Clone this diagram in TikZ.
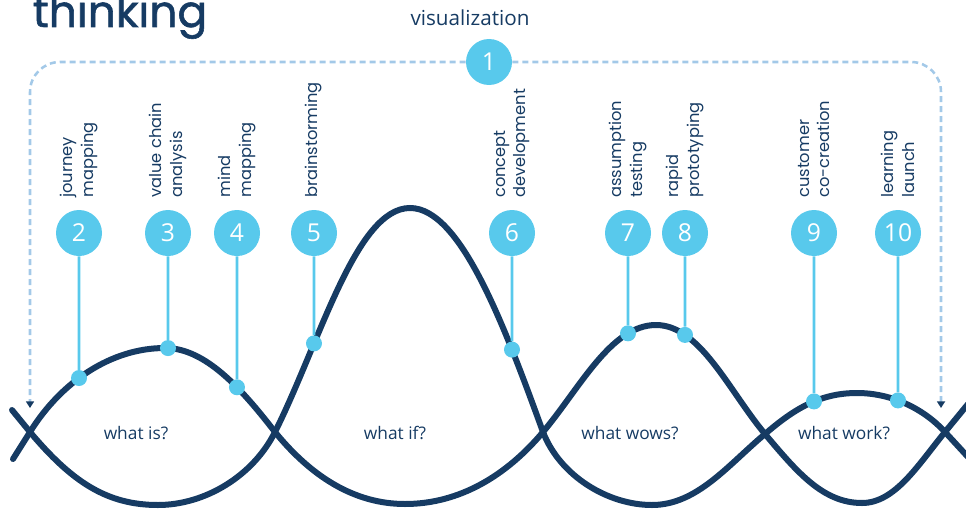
\documentclass[tikz,border=0pt]{standalone}
\usepackage{fontspec}
\setmainfont{Open Sans}
\newfontfamily\poppins{Poppins}
\newfontfamily\poppinsheavy{Poppins}[FakeBold=1.3]
\usetikzlibrary{arrows.meta, intersections}
\definecolor{deepnavy}{RGB}{22,59,99}
\definecolor{skyblue}{RGB}{88,201,236}
\definecolor{paleblue}{RGB}{163,201,232}

\begin{document}
\begin{tikzpicture}[
    x=0.75pt, y=-0.75pt,
    num/.style={circle, fill=skyblue, minimum size=34.5pt, inner sep=0pt, text=white, font=\fontsize{18.5}{18.5}\selectfont},
    knob/.style={circle, fill=skyblue, minimum size=12pt, inner sep=0pt},
    stem/.style={skyblue, line width=2pt},
    wave/.style={deepnavy, line width=4.5pt, line cap=round},
    tool/.style={rotate=90, anchor=west, inner sep=0pt, align=left, text=deepnavy, font=\poppins\fontsize{12.2}{15.5}\selectfont},
    phase/.style={anchor=base, text=deepnavy, font=\fontsize{13}{13}\selectfont},
    dashframe/.style={paleblue, line width=1.9pt, dash pattern=on 4.5pt off 3pt, rounded corners=22.5pt, -{Triangle[length=5pt, width=6pt, color=deepnavy]}}
]
\clip (0,0) rectangle (966,510);

\node[anchor=base west, text=deepnavy, font=\poppinsheavy\fontsize{33}{33}\selectfont] (title) at (28,27) {thinking};
\node[phase, font=\fontsize{15.5}{15.5}\selectfont] (vis) at (470,26) {visualization};

% the two waves
\draw[wave, name path=waveA] (12,410) -- (30,432)
  .. controls +(42,50) and +(-51,0) .. (158,505)
  .. controls +(47,0) and +(-22,44) .. (275,432)
  .. controls +(45,-90) and +(-54,0) .. (410,208)
  .. controls +(50,0) and +(-40,-110) .. (543,432)
  .. controls +(17,44) and +(-44,0) .. (652,505)
  .. controls +(45,0) and +(-37,31) .. (765,434)
  .. controls +(29,-25) and +(-37,0) .. (857,393)
  .. controls +(35,0) and +(-21,-23) .. (945,432)
  -- (968,457);
\draw[wave, name path=waveB] (13,459) -- (30,432)
  .. controls +(31,-50) and +(-54,0) .. (165,348)
  .. controls +(40,0) and +(-34,-44) .. (275,432)
  .. controls +(35,43) and +(-52,0) .. (405,504)
  .. controls +(55,0) and +(-36,43) .. (543,432)
  .. controls +(37,-44) and +(-45,0) .. (656,325)
  .. controls +(44,0) and +(-36,-43) .. (765,434)
  .. controls +(32,38) and +(-39,0) .. (862,503)
  .. controls +(33,0) and +(-27,33) .. (945,432)
  -- (968,404);

\node[phase] (is) at (136,439) {what is?};
\node[phase] (if) at (395,439) {what if?};
\node[phase] (wows) at (630,439) {what wows?};
\node[phase] (work) at (844,439) {what work?};

% visualization frame
\node[num] (n1) at (489,62) {1};
\coordinate (vl) at (30,408);
\coordinate (vr) at (941,408);
\draw[dashframe] (n1) -| (vl);
\draw[dashframe] (n1) -| (vr);

% tools
\node[num] (n2) at (79,233) {2};
\node[num] (n3) at (168,233) {3};
\node[num] (n4) at (237,233) {4};
\node[num] (n5) at (314,233) {5};
\node[num] (n6) at (512,233) {6};
\node[num] (n7) at (628,233) {7};
\node[num] (n8) at (685,233) {8};
\node[num] (n9) at (814,233) {9};
\node[num] (n10) at (898,233) {10};

\node[tool] (t2) at (79,198) {journey\\mapping};
\node[tool] (t3) at (168,198) {value chain\\analysis};
\node[tool] (t4) at (237,198) {mind\\mapping};
\node[tool] (t5) at (314,198) {brainstorming};
\node[tool] (t6) at (512,198) {concept\\development};
\node[tool] (t7) at (628,198) {assumption\\testing};
\node[tool] (t8) at (685,198) {rapid\\prototyping};
\node[tool] (t9) at (814,198) {customer\\co-creation};
\node[tool] (t10) at (898,198) {learning\\launch};

\path[name path=s2] (79,233) -- (79,520);
\path[name path=s3] (168,233) -- (168,520);
\path[name path=s4] (237,233) -- (237,520);
\path[name path=s5] (314,233) -- (314,520);
\path[name path=s6] (512,233) -- (512,520);
\path[name path=s7] (628,233) -- (628,520);
\path[name path=s8] (685,233) -- (685,520);
\path[name path=s9] (814,233) -- (814,520);
\path[name path=s10] (898,233) -- (898,520);
\path[name intersections={of=waveB and s2, by=p2}];
\path[name intersections={of=waveB and s3, by=p3}];
\path[name intersections={of=waveB and s4, by=p4}];
\path[name intersections={of=waveA and s5, by=p5}];
\path[name intersections={of=waveA and s6, by=p6}];
\path[name intersections={of=waveB and s7, by=p7}];
\path[name intersections={of=waveB and s8, by=p8}];
\path[name intersections={of=waveA and s9, by=p9}];
\path[name intersections={of=waveA and s10, by=p10}];

\node[knob] (d2) at (p2) {};
\node[knob] (d3) at (p3) {};
\node[knob] (d4) at (p4) {};
\node[knob] (d5) at (p5) {};
\node[knob] (d6) at (p6) {};
\node[knob] (d7) at (p7) {};
\node[knob] (d8) at (p8) {};
\node[knob] (d9) at (p9) {};
\node[knob] (d10) at (p10) {};

\draw[stem] (n2) -- (d2);
\draw[stem] (n3) -- (d3);
\draw[stem] (n4) -- (d4);
\draw[stem] (n5) -- (d5);
\draw[stem] (n6) -- (d6);
\draw[stem] (n7) -- (d7);
\draw[stem] (n8) -- (d8);
\draw[stem] (n9) -- (d9);
\draw[stem] (n10) -- (d10);
\end{tikzpicture}
\end{document}
